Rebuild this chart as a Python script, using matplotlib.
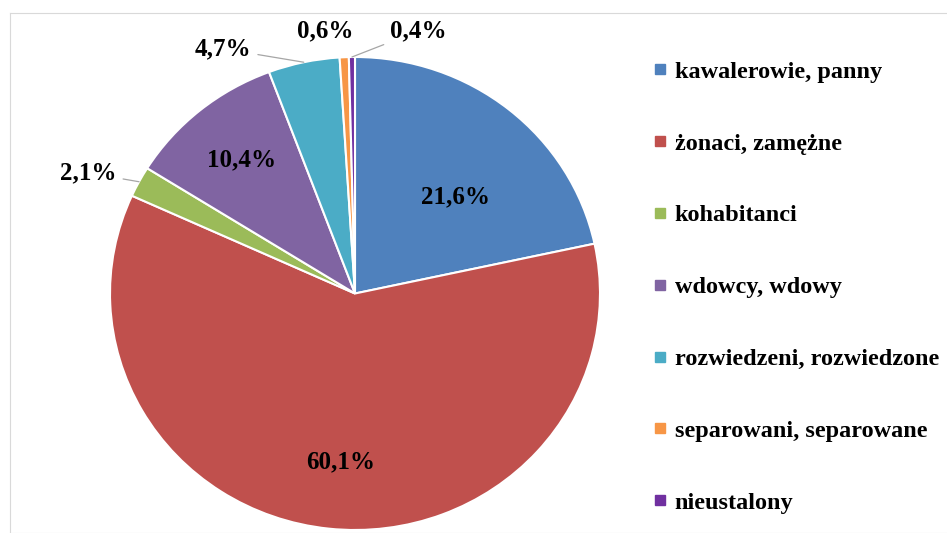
import numpy as np
import matplotlib
matplotlib.use("Agg")
import matplotlib.pyplot as plt
from matplotlib.lines import Line2D

categories = ["kawalerowie, panny", "żonaci, zamężne", "kohabitanci", "wdowcy, wdowy",
              "rozwiedzeni, rozwiedzone", "separowani, separowane", "nieustalony"]
shares = [21.6, 60.1, 2.1, 10.4, 4.7, 0.6, 0.4]
colors = ["#4F81BD", "#C0504D", "#9BBB59", "#8064A2", "#4BACC6", "#F79646", "#7030A0"]

plt.rcParams["font.family"] = ["Liberation Serif", "DejaVu Serif"]
plt.rcParams["font.weight"] = "bold"

W, H = 947, 533
fig = plt.figure(figsize=(W / 100, H / 100), dpi=100)

# light frame of the chart area
frame = fig.add_axes([10 / W, 0, 1.2, (H - 13) / H])
frame.set_xticks([]); frame.set_yticks([])
for s in frame.spines.values():
    s.set_color("#d9d9d9")
frame.patch.set_alpha(0)

# pie area: circle spans x 110..600, y 57..530 in pixels
ax = fig.add_axes([110 / W, 3 / H, 490 / W, 473 / H])
wedges, _ = ax.pie(shares, colors=colors, startangle=90, counterclock=False,
                   wedgeprops=dict(edgecolor="white", linewidth=1.5))
ax.set_aspect("auto")
ax.set_xlim(-1, 1); ax.set_ylim(-1, 1)
ax.axis("off")

labels = [f"{v:.1f}".replace(".", ",") + "%" for v in shares]

# label positions (axes data units) and whether a leader line is drawn
label_pos = [((0.41, 0.41), False), ((-0.06, -0.71), False), ((-1.09, 0.51), True),
             ((-0.465, 0.565), False), ((-0.54, 1.035), True), ((-0.12, 1.11), False),
             ((0.26, 1.11), True)]

for i, w in enumerate(wedges):
    ang = np.deg2rad((w.theta1 + w.theta2) / 2)
    pos, leader = label_pos[i]
    if leader:
        ax.annotate(labels[i], xy=(np.cos(ang), np.sin(ang)), xytext=pos,
                    ha="center", va="center", fontsize=18, fontweight="bold",
                    annotation_clip=False,
                    arrowprops=dict(arrowstyle="-", color="#a6a6a6", lw=0.9,
                                    shrinkA=3, shrinkB=0))
    else:
        ax.text(pos[0], pos[1], labels[i], ha="center", va="center",
                fontsize=18, fontweight="bold", clip_on=False)

handles = [Line2D([], [], marker="s", linestyle="none", markersize=7,
                  markerfacecolor=c, markeredgecolor=c) for c in colors]
fig.legend(handles, categories, loc="upper left", bbox_to_anchor=(643 / W, 1 - 51 / H),
           frameon=False, labelspacing=2.05, handlelength=0.6,
           handletextpad=0.3, borderaxespad=0, prop=dict(weight="bold", size=17.5))

fig.savefig("out.png", dpi=100)
